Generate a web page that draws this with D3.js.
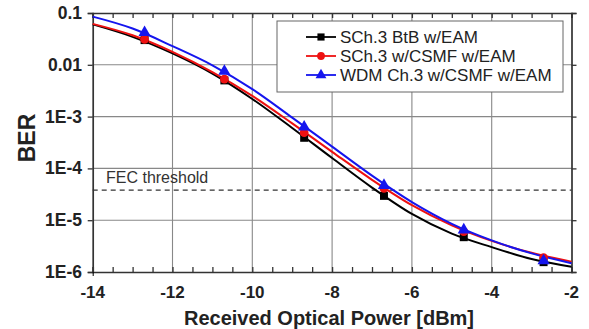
<!DOCTYPE html>
<html>
<head>
<meta charset="utf-8">
<script src="https://cdn.jsdelivr.net/npm/d3@7"></script>
<style>
  body { margin: 0; background: #fff; }
  text { font-family: "Liberation Sans", Arial, sans-serif; }
</style>
</head>
<body>
<svg width="589" height="329"></svg>
<script>
const svg = d3.select("svg");

// measured points (x in dBm)
const pointX = [-12.7, -10.7, -8.7, -6.7, -4.7, -2.7];
const btbPts = [0.030, 0.0050, 3.9e-4, 2.95e-5, 4.7e-6, 1.55e-6];
const csmfPts = [0.031, 0.0053, 4.9e-4, 4.1e-5, 6.0e-6, 1.9e-6];
const wdmPts = [0.042, 0.0075, 6.3e-4, 4.7e-5, 6.5e-6, 1.65e-6];

// fitted curves, read at each dBm (log10 BER)
const fitX = [-14, -13, -12, -11, -10, -9, -8, -7, -6, -5, -4, -3, -2];
const btbFit = [-1.22, -1.46, -1.78, -2.17, -2.66, -3.22, -3.80, -4.37, -4.88, -5.26, -5.52, -5.75, -5.90];
const csmfFit = [-1.21, -1.43, -1.75, -2.14, -2.60, -3.13, -3.68, -4.22, -4.71, -5.10, -5.40, -5.63, -5.80];
const wdmFit = [-1.07, -1.30, -1.64, -2.01, -2.47, -3.02, -3.58, -4.14, -4.65, -5.07, -5.39, -5.64, -5.83];

const fecThreshold = 3.8e-5;
const xTicks = [-14, -12, -10, -8, -6, -4, -2];
const yTicks = [0.1, 0.01, 1e-3, 1e-4, 1e-5, 1e-6];
const yLabels = ["0.1", "0.01", "1E-3", "1E-4", "1E-5", "1E-6"];

const series = [
  { name: "SCh.3 BtB w/EAM", color: "#000000", pts: btbPts, fit: btbFit, shape: d3.symbolSquare, size: 64 },
  { name: "SCh.3 w/CSMF w/EAM", color: "#ee1111", pts: csmfPts, fit: csmfFit, shape: d3.symbolCircle, size: 60 },
  { name: "WDM Ch.3 w/CSMF w/EAM", color: "#1515ee", pts: wdmPts, fit: wdmFit, shape: d3.symbolTriangle, size: 64 }
];

const plotLeft = 92.7, plotRight = 571.5, plotTop = 13, plotBottom = 272;

const x = d3.scaleLinear().domain([-14, -2]).range([plotLeft, plotRight]);
const y = d3.scaleLog().domain([1e-6, 0.1]).range([plotBottom, plotTop]);

// grid
const grid = svg.append("g");
grid.selectAll(".gx").data(xTicks.slice(1, -1)).enter().append("line")
  .attr("x1", d => x(d)).attr("x2", d => x(d))
  .attr("y1", plotTop).attr("y2", plotBottom)
  .attr("stroke", "#888").attr("stroke-width", 1.1);
grid.selectAll(".gy").data(yTicks.slice(1, -1)).enter().append("line")
  .attr("x1", plotLeft).attr("x2", plotRight)
  .attr("y1", d => y(d)).attr("y2", d => y(d))
  .attr("stroke", "#888").attr("stroke-width", 1.1);

// axes with inward minor ticks
const minorX = d3.range(-14, -1.99, 0.5);
const xb = svg.append("g").attr("transform", `translate(0,${plotBottom})`)
  .call(d3.axisTop(x).tickValues(minorX).tickSize(5).tickFormat(""));
const xt = svg.append("g").attr("transform", `translate(0,${plotTop})`)
  .call(d3.axisBottom(x).tickValues(minorX).tickSize(5).tickFormat(""));
const yl = svg.append("g").attr("transform", `translate(${plotLeft},0)`)
  .call(d3.axisLeft(y).tickValues(yTicks).tickSize(5).tickFormat(""));
const yr = svg.append("g").attr("transform", `translate(${plotRight},0)`)
  .call(d3.axisLeft(y).tickValues(yTicks).tickSize(-5).tickFormat(""));
// small outward tick at the corner
svg.append("g").attr("transform", `translate(0,${plotBottom})`)
  .call(d3.axisBottom(x).tickValues(xTicks.slice(0, 1)).tickSize(4).tickFormat(""))
  .select(".domain").remove();
[xb, xt, yl, yr].forEach(g => {
  g.select(".domain").attr("stroke", "#333").attr("stroke-width", 1.7);
  g.selectAll(".tick line").attr("stroke", "#333").attr("stroke-width", 1.3);
});

// tick labels
svg.append("g").selectAll("text").data(xTicks).enter().append("text")
  .attr("x", d => x(d)).attr("y", 298)
  .attr("text-anchor", "middle")
  .attr("font-size", 17).attr("font-weight", "bold").attr("fill", "#222")
  .text(d => d);
svg.append("g").selectAll("text").data(yTicks).enter().append("text")
  .attr("x", 82).attr("y", d => y(d) + 6)
  .attr("text-anchor", "end")
  .attr("font-size", 17.5).attr("font-weight", "bold").attr("fill", "#222")
  .text((d, i) => yLabels[i]);

// axis titles
svg.append("text")
  .attr("x", 329).attr("y", 325)
  .attr("text-anchor", "middle")
  .attr("font-size", 20).attr("font-weight", "bold").attr("fill", "#222")
  .text("Received Optical Power [dBm]");
svg.append("text")
  .attr("transform", `translate(35,138) rotate(-90)`)
  .attr("text-anchor", "middle")
  .attr("font-size", 23).attr("font-weight", "bold").attr("fill", "#222")
  .text("BER");

// FEC threshold
svg.append("line")
  .attr("x1", plotLeft).attr("x2", plotRight)
  .attr("y1", y(fecThreshold)).attr("y2", y(fecThreshold))
  .attr("stroke", "#333").attr("stroke-width", 1.3)
  .attr("stroke-dasharray", "5,4");
svg.append("text")
  .attr("x", 106).attr("y", 183)
  .attr("font-size", 16).attr("fill", "#333")
  .text("FEC threshold");

// curves and markers
const line = d3.line()
  .x((d, i) => x(fitX[i]))
  .y(d => y(Math.pow(10, d)))
  .curve(d3.curveMonotoneX);

series.forEach(s => {
  svg.append("path")
    .attr("d", line(s.fit))
    .attr("fill", "none")
    .attr("stroke", s.color)
    .attr("stroke-width", 2);
});
series.forEach(s => {
  svg.append("g").selectAll("path").data(s.pts).enter().append("path")
    .attr("transform", (d, i) => `translate(${x(pointX[i])},${y(d)})`)
    .attr("d", d3.symbol().type(s.shape).size(s.size))
    .attr("fill", s.color);
});

// legend
const legend = svg.append("g");
legend.append("rect")
  .attr("x", 277).attr("y", 21).attr("width", 286).attr("height", 71)
  .attr("fill", "#fff").attr("stroke", "#666").attr("stroke-width", 1);
series.forEach((s, i) => {
  const ly = 37 + i * 19;
  legend.append("line")
    .attr("x1", 306).attr("x2", 336).attr("y1", ly).attr("y2", ly)
    .attr("stroke", s.color).attr("stroke-width", 1.8);
  legend.append("path")
    .attr("transform", `translate(321,${ly})`)
    .attr("d", d3.symbol().type(s.shape).size(s.size * 0.8))
    .attr("fill", s.color);
  legend.append("text")
    .attr("x", 340).attr("y", ly + 6)
    .attr("font-size", 17).attr("fill", "#222")
    .text(s.name);
});
</script>
</body>
</html>
